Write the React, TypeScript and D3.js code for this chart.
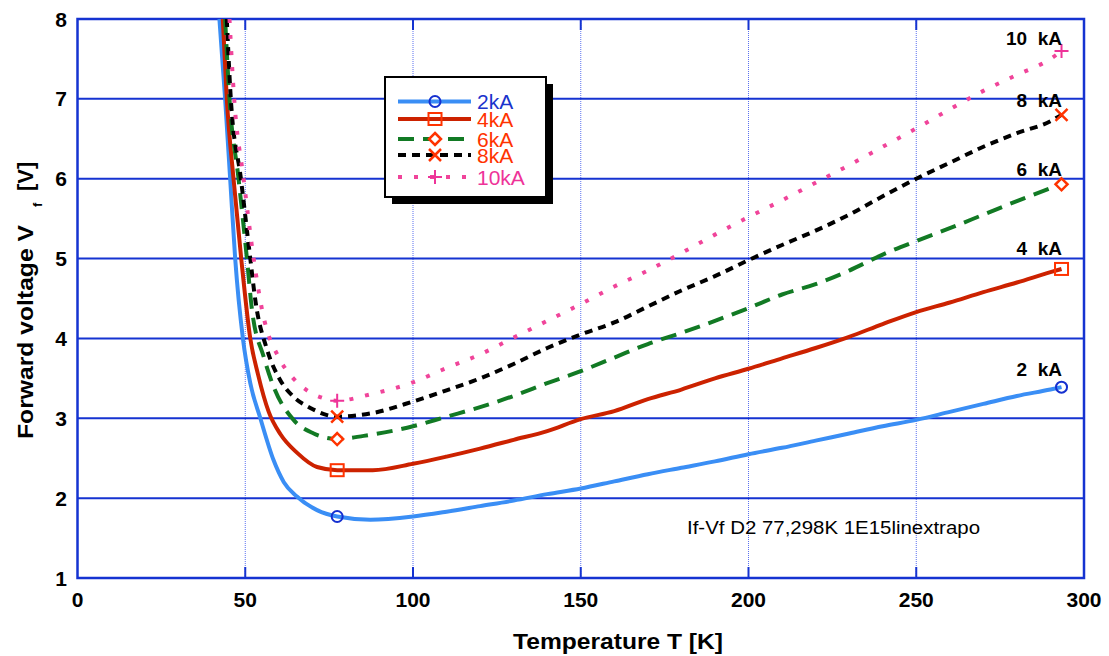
import React from "react";
import * as d3 from "d3";

const xTicks = [0, 50, 100, 150, 200, 250, 300];
const yTicks = [1, 2, 3, 4, 5, 6, 7, 8];

const tRise = [100, 110, 120, 130, 140, 150, 160, 170, 180, 190, 200, 210, 220, 230, 240, 250, 260, 270, 280, 290, 293.3];

const t2 = [42.3, 44, 45.5, 47, 49.3, 51.5, 54.5, 58.4, 61.5, 65.4, 71.4, 77.4, 87.3, ...tRise];
const v2 = [8, 7, 6, 5, 4, 3.44, 3.0, 2.48, 2.2, 2.02, 1.85, 1.77, 1.73,
  1.77, 1.83, 1.9, 1.97, 2.05, 2.12, 2.21, 2.3, 2.38, 2.46, 2.55, 2.63, 2.72, 2.81, 2.9, 2.98, 3.08, 3.18, 3.28, 3.36, 3.39];

const t4 = [43.3, 44.5, 46.5, 48.8, 51.5, 53.8, 57, 60.5, 65.4, 71.4, 77.4, 88, ...tRise];
const v4 = [8, 7, 6, 5, 4, 3.55, 3.08, 2.8, 2.57, 2.39, 2.35, 2.35,
  2.43, 2.52, 2.62, 2.73, 2.84, 2.99, 3.09, 3.24, 3.36, 3.5, 3.62, 3.75, 3.88, 4.02, 4.18, 4.33, 4.45, 4.58, 4.7, 4.83, 4.87];

const t6 = [44, 45.3, 48, 50.5, 52, 55.5, 58.4, 64.4, 70.4, 77.4, 85.3, ...tRise];
const v6 = [8, 7, 6, 5, 4.36, 3.77, 3.4, 2.98, 2.81, 2.74, 2.78,
  2.9, 3.02, 3.14, 3.28, 3.44, 3.59, 3.76, 3.93, 4.07, 4.22, 4.38, 4.55, 4.68, 4.85, 5.05, 5.22, 5.38, 5.55, 5.72, 5.88, 5.93];

const t8 = [44.5, 45.7, 48.7, 51.5, 53, 56.5, 60.4, 64.4, 69.4, 74.4, 77.4, 87.3, ...tRise];
const v8 = [8, 7, 6, 5, 4.48, 3.86, 3.48, 3.27, 3.13, 3.04, 3.02, 3.06,
  3.21, 3.35, 3.5, 3.68, 3.88, 4.05, 4.2, 4.4, 4.6, 4.78, 4.98, 5.17, 5.35, 5.55, 5.78, 6.0, 6.2, 6.4, 6.57, 6.72, 6.8];

const t10 = [45.3, 46.7, 49.5, 52.5, 55, 60.4, 63.9, 68.4, 73.4, 77.4, 87.3, ...tRise];
const v10 = [8, 7, 6, 5, 4.36, 3.73, 3.52, 3.35, 3.25, 3.22, 3.3,
  3.45, 3.63, 3.8, 4.01, 4.22, 4.43, 4.65, 4.85, 5.07, 5.3, 5.52, 5.73, 5.95, 6.17, 6.4, 6.63, 6.87, 7.1, 7.3, 7.5, 7.6];

const seriesNames = ["2kA", "4kA", "6kA", "8kA", "10kA"];
const rightLabels = ["2  kA", "4  kA", "6  kA", "8  kA", "10  kA"];
const markerT = [77.4, 293.3];
const annotation = "If-Vf D2 77,298K 1E15linextrapo";

const GRID = "#1533d1";
const ORANGE = "#ff3300";

const styles = [
  { t: t2, v: v2, color: "#3a8ef5", dash: null, marker: "circle", mcolor: "#1530d0", lcolor: "#1a33cc", w: 4 },
  { t: t4, v: v4, color: "#cc2200", dash: null, marker: "square", mcolor: ORANGE, lcolor: ORANGE, w: 4 },
  { t: t6, v: v6, color: "#127a24", dash: "16,9", marker: "diamond", mcolor: ORANGE, lcolor: ORANGE, w: 4 },
  { t: t8, v: v8, color: "#000000", dash: "8,6", marker: "x", mcolor: ORANGE, lcolor: ORANGE, w: 4 },
  { t: t10, v: v10, color: "#f0449a", dash: "4,12", marker: "plus", mcolor: "#ee3399", lcolor: "#ee3399", w: 4 },
];

function Marker({ kind, x, y, color }: { kind: string; x: number; y: number; color: string }) {
  const sw = 2;
  if (kind === "circle") return <circle cx={x} cy={y} r={5.5} fill="none" stroke={color} strokeWidth={sw} />;
  if (kind === "square") return <rect x={x - 6.5} y={y - 6} width={13} height={12} fill="none" stroke={color} strokeWidth={sw} />;
  if (kind === "diamond")
    return <path d={`M${x},${y - 6}L${x + 6},${y}L${x},${y + 6}L${x - 6},${y}Z`} fill="white" stroke={color} strokeWidth={2.5} />;
  if (kind === "x")
    return <path d={`M${x - 6},${y - 6}L${x + 6},${y + 6}M${x - 6},${y + 6}L${x + 6},${y - 6}`} stroke={color} strokeWidth={2.5} />;
  return <path d={`M${x - 7},${y}L${x + 7},${y}M${x},${y - 7}L${x},${y + 7}`} stroke={color} strokeWidth={2} />;
}

export default function App() {
  const W = 1109, H = 656;
  const x = d3.scaleLinear().domain([0, 300]).range([77.5, 1084]);
  const y = d3.scaleLinear().domain([1, 8]).range([578, 19]);
  const line = d3
    .line<[number, number]>()
    .x((d) => x(d[0]))
    .y((d) => y(d[1]))
    .curve(d3.curveMonotoneX);

  const rightY = [376, 255, 176, 107, 45];
  const legX = 385, legY = 77, legW = 161, legH = 120;
  const legRows = [101.5, 119, 139, 155, 177];

  return (
    <div style={{ position: "absolute", left: 0, top: 0 }}>
      <svg width={W} height={H} style={{ display: "block", fontFamily: "'Liberation Sans', Arial, sans-serif" }}>
        <rect width={W} height={H} fill="white" />
        <defs>
          <clipPath id="plotclip">
            <rect x={x(0)} y={y(8)} width={x(300) - x(0)} height={y(1) - y(8)} />
          </clipPath>
        </defs>
        {xTicks.slice(1, -1).map((t) => (
          <g key={"vx" + t}>
            <line x1={x(t)} x2={x(t)} y1={y(8)} y2={y(1)} stroke="#5a70f0" strokeWidth={1} strokeDasharray="1,1" />
            <line x1={x(t)} x2={x(t)} y1={y(8)} y2={y(8) + 11} stroke={GRID} strokeWidth={2} />
            <line x1={x(t)} x2={x(t)} y1={y(1)} y2={y(1) - 11} stroke={GRID} strokeWidth={2} />
          </g>
        ))}
        {yTicks.slice(1, -1).map((v) => (
          <line key={"hy" + v} x1={x(0)} x2={x(300)} y1={y(v)} y2={y(v)} stroke={GRID} strokeWidth={2} />
        ))}
        <rect x={x(0)} y={y(8)} width={x(300) - x(0)} height={y(1) - y(8)} fill="none" stroke={GRID} strokeWidth={2.5} />

        <g clipPath="url(#plotclip)">
          {styles.map((s, i) => (
            <path
              key={"s" + i}
              d={line(s.t.map((t, j) => [t, s.v[j]] as [number, number])) || ""}
              fill="none"
              stroke={s.color}
              strokeWidth={s.w}
              strokeDasharray={s.dash || undefined}
              strokeLinejoin="round"
            />
          ))}
        </g>
        {styles.map((s, i) =>
          markerT.map((mt) => {
            const j = s.t.indexOf(mt);
            return <Marker key={"m" + i + mt} kind={s.marker} x={x(mt)} y={y(s.v[j])} color={s.mcolor} />;
          })
        )}

        {rightLabels.map((l, i) => (
          <text key={"rl" + i} x={1062} y={rightY[i]} textAnchor="end" fontSize={19} fontWeight="bold" style={{ whiteSpace: "pre" }}>
            {l}
          </text>
        ))}

        <text x={687} y={534} fontSize={17.5} textLength={293} lengthAdjust="spacingAndGlyphs">
          {annotation}
        </text>

        <rect x={legX + 7} y={legY + 7} width={legW} height={legH} fill="black" />
        <rect x={legX} y={legY} width={legW} height={legH} fill="white" stroke="black" strokeWidth={2} />
        {styles.map((s, i) => (
          <g key={"lg" + i}>
            <line x1={398} x2={471} y1={legRows[i]} y2={legRows[i]} stroke={s.color} strokeWidth={s.w} strokeDasharray={s.dash || undefined} />
            <Marker kind={s.marker} x={435} y={legRows[i]} color={s.mcolor} />
            <text x={477} y={legRows[i] + 7.5} fontSize={21} fill={s.lcolor}>
              {seriesNames[i]}
            </text>
          </g>
        ))}

        {yTicks.map((v) => (
          <text key={"yt" + v} x={67} y={y(v) + 7.5} textAnchor="end" fontSize={21} fontWeight="bold">
            {v}
          </text>
        ))}
        {xTicks.map((t) => (
          <text key={"xt" + t} x={x(t)} y={607} textAnchor="middle" fontSize={21} fontWeight="bold">
            {t}
          </text>
        ))}

        <text x={618} y={649} textAnchor="middle" fontSize={22} fontWeight="bold" textLength={210} lengthAdjust="spacingAndGlyphs">
          Temperature T [K]
        </text>
        <text transform="translate(33,439) rotate(-90)" fontSize={22} fontWeight="bold" textLength={214} lengthAdjust="spacingAndGlyphs">
          Forward voltage V
        </text>
        <text transform="translate(42,207) rotate(-90)" fontSize={13} fontWeight="bold">
          f
        </text>
        <text transform="translate(33,191) rotate(-90)" fontSize={22} fontWeight="bold">
          [V]
        </text>
      </svg>
    </div>
  );
}
